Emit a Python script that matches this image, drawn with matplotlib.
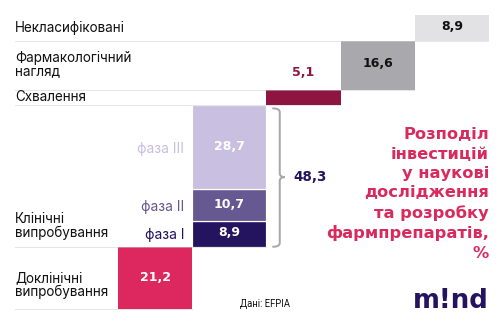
import matplotlib.pyplot as plt
from matplotlib.path import Path
from matplotlib.patches import PathPatch

# data (%)
stage_labels = ['Доклінічні\nвипробування', 'Клінічні\nвипробування', 'Схвалення',
                'Фармакологічний\nнагляд', 'Некласифіковані']
preclinical = 21.2
phase_labels = ['фаза I', 'фаза II', 'фаза III']
phase_values = [8.9, 10.7, 28.7]
clinical_total = 48.3
approval = 5.1
pharmacovigilance = 16.6
unclassified = 8.9

phase_colors = ['#24135e', '#665891', '#c8bfe1']
title = 'Розподіл\nінвестицій\nу наукові\nдослідження\nта розробку\nфармпрепаратів,\n%'

plt.rcParams['font.family'] = ['Inter', 'DejaVu Sans']
BOLD = ['DejaVu Sans']

def fmt(v):
    return f'{v:.1f}'.replace('.', ',')

fig = plt.figure(figsize=(7, 4.5), dpi=72)
ax = fig.add_axes([118 / 504, 15 / 324, 371 / 504, 294 / 324])
ax.set_xlim(0, 5)
ax.set_ylim(0, 100.1)
ax.axis('off')

# preclinical
ax.bar(0, preclinical, bottom=0, width=1, align='edge', color='#dc285f', zorder=2)
ax.text(0.5, preclinical / 2, fmt(preclinical), color='white', fontsize=12.5,
        family=BOLD, fontweight='bold', ha='center', va='center', zorder=4)

# clinical phases
bottom = preclinical
for lab, v, c in zip(phase_labels, phase_values, phase_colors):
    ax.bar(1, v, bottom=bottom, width=1, align='edge', color=c,
           edgecolor='white', linewidth=1.2, zorder=2)
    ax.text(1.5, bottom + v / 2 + 0.3, fmt(v), color='white', fontsize=12.5,
            family=BOLD, fontweight='bold', ha='center', va='center', zorder=4)
    ax.text(0.89, bottom + v / 2 - 0.6, lab, color=c, fontsize=13.8,
            ha='right', va='center')
    bottom += v
clin_top = bottom

# approval
ax.bar(2, approval, bottom=clin_top, width=1, align='edge', color='#8e1540', zorder=2)
ax.text(2.5, clin_top + approval + 5.8, fmt(approval), color='#8e1540', fontsize=12.5,
        family=BOLD, fontweight='bold', ha='center', va='center')
appr_top = clin_top + approval

# pharmacovigilance
ax.bar(3, pharmacovigilance, bottom=appr_top, width=1, align='edge', color='#a9a9ad', zorder=2)
ax.text(3.5, appr_top + pharmacovigilance / 2 + 0.8, fmt(pharmacovigilance), color='#111111',
        fontsize=12.5, family=BOLD, fontweight='bold', ha='center', va='center', zorder=4)
pv_top = appr_top + pharmacovigilance

# unclassified
ax.bar(4, unclassified, bottom=pv_top, width=1, align='edge', color='#e2e2e4', zorder=2)
ax.text(4.5, pv_top + unclassified / 2 + 0.4, fmt(unclassified), color='#111111',
        fontsize=12.5, family=BOLD, fontweight='bold', ha='center', va='center', zorder=4)

# dotted separators
x_left = (15 - 118) / 74.2
levels = [0, preclinical, clin_top, appr_top, pv_top]
ends = [1, 2, 3, 4, 5]
for lv, e in zip(levels, ends):
    ax.plot([x_left, e], [lv, lv], color='#cfcfcf', linestyle=(0, (1, 1)),
            linewidth=1, zorder=3, clip_on=False)

# stage labels on the left
label_y = [8.2, 23.4, 72.2, 83.2, 95.6]
label_va = ['center', 'bottom', 'center', 'center', 'center']
for lab, y, va in zip(stage_labels, label_y, label_va):
    ax.text(x_left, y, lab, fontsize=13.5, color='#111111', ha='left', va=va,
            linespacing=0.98, clip_on=False)

# brace for clinical total
x0, xm, x1 = 2.09, 2.18, 2.25
yb, yt = preclinical, clin_top - 1.2
ymid = 44.9
r = 1.3
verts = [(x0, yb), (xm, yb), (xm, yb + r), (xm, ymid - r), (xm, ymid), (x1, ymid),
         (xm, ymid), (xm, ymid + r), (xm, yt - r), (xm, yt), (x0, yt)]
codes = [Path.MOVETO, Path.CURVE3, Path.CURVE3, Path.LINETO, Path.CURVE3, Path.CURVE3,
         Path.CURVE3, Path.CURVE3, Path.LINETO, Path.CURVE3, Path.CURVE3]
ax.add_patch(PathPatch(Path(verts, codes), facecolor='none', edgecolor='#a8a8a8',
                       linewidth=2, capstyle='round', clip_on=False))
ax.text(2.36, ymid, fmt(clinical_total), color='#24135e', fontsize=13.5,
        family=BOLD, fontweight='bold', ha='left', va='center')

# title
ax.text(1.0, 61.8, title, transform=ax.get_yaxis_transform(), color='#d92a5e',
        fontsize=16.3, family=BOLD, fontweight='bold', ha='right', va='top',
        linespacing=1.36, multialignment='right')

# source and logo
fig.text(240 / 504, 1 - 304 / 324, 'Дані: EFPIA', fontsize=9.5, color='#111111',
         family=['Roboto'], ha='left', va='center')
fig.text(489 / 504, 1 - 308 / 324, 'm!nd', fontsize=26, color='#24135e',
         family=BOLD, fontweight='bold', ha='right', va='baseline')

fig.savefig('out.png', dpi=72)
